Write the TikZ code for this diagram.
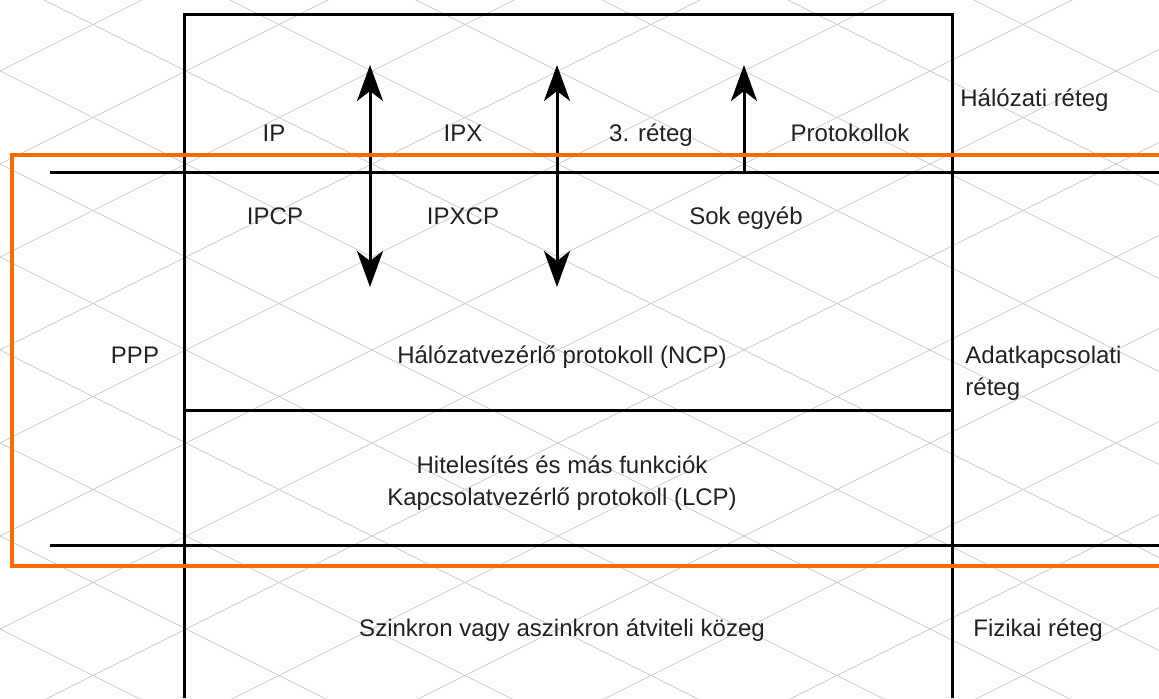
\documentclass[tikz,border=0pt]{standalone}
\usepackage{fontspec}
\setmainfont{Liberation Sans}
\usetikzlibrary{arrows.meta}

\definecolor{pppframe}{HTML}{FF6A00}
\definecolor{labeltext}{HTML}{222222}

\tikzset{
  gridline/.style={gray!40, line width=0.4pt},
  layerline/.style={black, line width=1.5pt},
  lbl/.style={inner sep=0pt, anchor=base, text=labeltext,
    font=\fontsize{12}{16}\selectfont},
  sidelbl/.style={lbl, anchor=base west, align=left},
  updown/.style={layerline, {Stealth[length=18pt, width=13pt, inset=5pt]}-{Stealth[length=18pt, width=13pt, inset=5pt]}},
  uponly/.style={layerline, -{Stealth[length=18pt, width=13pt, inset=5pt]}}
}

\begin{document}
\begin{tikzpicture}[x=0.5pt,y=-0.5pt]
\clip (0,0) rectangle (1159,698);
\fill[white] (0,0) rectangle (1159,698);

% diagonal background grid
\foreach \c in {-580,-487,...,629}
  \draw[gridline] (0,\c) -- (1159,{\c+579.5});
\foreach \d in {71,164,...,1280}
  \draw[gridline] (0,\d) -- (1159,{\d-579.5});

% layer frame
\draw[layerline] (184,698) -- (184,14) -- (952,14) -- (952,698);
\draw[layerline] (50,172) -- (1159,172);
\draw[layerline] (184,410) -- (952,410);
\draw[layerline] (50,545) -- (1159,545);

% network layer
\node[lbl] (ip) at (274,141) {IP};
\node[lbl] (ipx) at (463,141) {IPX};
\node[lbl] (l3) at (651,141) {3. réteg};
\node[lbl] (protos) at (850,141) {Protokollok};
\node[sidelbl] (netlayer) at (960,106) {Hálózati réteg};

% control protocols
\node[lbl] (ipcp) at (275,224) {IPCP};
\node[lbl] (ipxcp) at (463,224) {IPXCP};
\node[lbl] (other) at (746,224) {Sok egyéb};
\node[lbl] (ppp) at (135,363) {PPP};
\node[lbl] (ncp) at (562,363) {Hálózatvezérlő protokoll (NCP)};
\node[sidelbl] (linklayer) at (965,395) {Adatkapcsolati\\réteg};
\node[lbl] (auth) at (562,473) {Hitelesítés és más funkciók};
\node[lbl] (lcp) at (562,505) {Kapcsolatvezérlő protokoll (LCP)};

% physical layer
\node[lbl] (medium) at (562,636) {Szinkron vagy aszinkron átviteli közeg};
\node[sidelbl] (phylayer) at (973,636) {Fizikai réteg};

% arrows between layers
\coordinate (ipa) at (370,65);
\coordinate (ipb) at (370,287);
\coordinate (ipxa) at (557,65);
\coordinate (ipxb) at (557,287);
\coordinate (l3a) at (744,65);
\coordinate (l3b) at (744,172);
\draw[updown] (ipb) -- (ipa);
\draw[updown] (ipxb) -- (ipxa);
\draw[uponly] (l3b) -- (l3a);

% PPP frame
\draw[pppframe, line width=1.8pt] (1175,155) -- (12,155) -- (12,566) -- (1175,566);
\end{tikzpicture}
\end{document}
